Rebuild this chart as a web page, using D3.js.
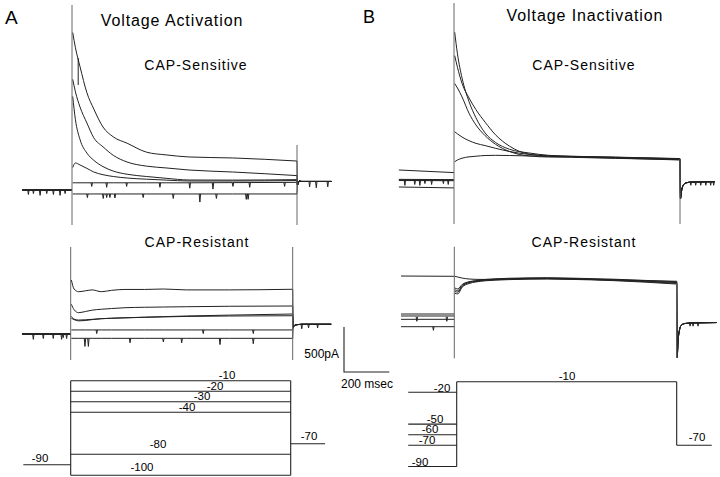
<!DOCTYPE html>
<html>
<head>
<meta charset="utf-8">
<script src="https://cdnjs.cloudflare.com/ajax/libs/d3/7.8.5/d3.min.js"></script>
<style>
  body { margin: 0; background: #fff; }
  text { font-family: "Liberation Sans", Arial, sans-serif; fill: #000; }
  .trace { fill: none; stroke: #222; stroke-width: 1; }
  .cap { fill: none; stroke: #666; stroke-width: 1; }
  .proto { fill: none; stroke: #222; stroke-width: 1.1; }
</style>
</head>
<body>
<script>
(function() {

  // ---------- data ----------
  // sample times (ms after step onset) used by every step trace
  var stepTimes = [3, 15, 35, 65, 95, 135, 180, 240, 325, 410, 510, 700, 980];
  var stepDur = 980;

  // A: activation protocol (mV)
  var actSteps = [-10, -20, -30, -40, -80, -100];
  var actHold = -90;
  var postHold = -70;

  // A, CAP-sensitive current (pA) at stepTimes, one array per step
  var aSens10  = [1750, 1580, 1370, 1080, 900, 700, 590, 520, 420, 390, 367, 356, 322];
  var aSens20  = [1230, 1090, 922, 744, 580, 480, 385, 311, 265, 245, 222, 200, 160];
  var aSens30  = [1040, 780, 560, 410, 330, 260, 210, 175, 150, 130, 111, 110, 115];
  var aSens40  = [250, 300, 278, 240, 200, 170, 150, 133, 120, 110, 100, 100, 105];
  var aSens80  = [80, 80, 80, 80, 80, 80, 80, 80, 80, 80, 80, 82, 85];
  var aSens100 = [-44, -44, -44, -44, -44, -44, -44, -44, -44, -44, -44, -44, -44];
  var aSensPostT = [982, 990, 1000, 1130];
  var aSensPostV = [55, 100, 95, 95];

  // A, CAP-resistant current (pA)
  var aRes10  = [600, 500, 470, 480, 490, 470, 485, 495, 495, 500, 490, 490, 497];
  var aRes20  = [330, 270, 237, 250, 265, 275, 283, 292, 297, 300, 303, 308, 311];
  var aRes30  = [195, 165, 155, 158, 163, 170, 175, 180, 187, 193, 200, 210, 222];
  var aRes40  = [175, 160, 146, 150, 160, 170, 175, 180, 185, 190, 195, 200, 203];
  var aRes80  = [45, 45, 45, 45, 45, 45, 45, 45, 45, 45, 45, 45, 45];
  var aRes100 = [-48, -48, -48, -48, -48, -48, -48, -48, -48, -48, -48, -48, -48];
  var aResPostT = [982, 988, 1000, 1020, 1150];
  var aResPostV = [75, 95, 104, 108, 108];

  // B: inactivation protocol, prepulse potentials (mV), test step -10
  var inactPre = [-20, -50, -60, -70, -90];
  var inactTest = -10;

  // B, CAP-sensitive current (pA): prepulse start/end level, then step samples
  var bSensPre = [[189, 160], [85, 82], [78, 76], [72, 70], [0, -10]];
  var bSens20 = [281, 300, 320, 335, 342, 350, 352, 350, 345, 340, 335, 322, 300];
  var bSens50 = [614, 590, 555, 515, 485, 460, 430, 395, 362, 348, 340, 330, 314];
  var bSens60 = [1150, 1100, 1000, 820, 690, 570, 475, 395, 345, 333, 330, 318, 304];
  var bSens70 = [1460, 1330, 1150, 990, 860, 720, 580, 455, 365, 345, 338, 328, 310];
  var bSens90 = [1720, 1480, 1210, 950, 770, 600, 495, 420, 378, 352, 342, 332, 316];
  var bSensPostT = [982, 987, 993, 1005, 1030, 1131];
  var bSensPostV = [-130, -40, 15, 45, 55, 59];

  // B, CAP-resistant current (pA)
  var bResPre = [[563, 560], [141, 141], [119, 119], [82, 82], [0, 0]];
  var bRes20 = [560, 552, 540, 530, 526, 525, 526, 530, 534, 534, 530, 520, 505];
  var bRes50 = [430, 420, 470, 500, 512, 525, 532, 538, 542, 544, 540, 528, 498];
  var bRes60 = [410, 400, 460, 495, 508, 520, 527, 533, 538, 540, 535, 522, 490];
  var bRes70 = [390, 385, 450, 490, 503, 515, 522, 528, 533, 535, 530, 517, 482];
  var bRes90 = [370, 365, 440, 480, 497, 510, 517, 523, 528, 530, 526, 512, 474];
  var bResPostT = [982, 986, 992, 1000, 1015, 1050, 1156];
  var bResPostV = [-340, -160, -40, 15, 35, 42, 46];

  // capacitive transients at step on/off: [top, bottom] in pA
  var capA = { sens: [[2056, -389], [500, -389]], res: [[967, -289], [967, -289]] };
  var capB = { sens: [[2044, -411], [311, -411]], res: [[889, -351], [483, -348]] };
  var aSensArtifact = { t: 27, top: 1467, bottom: 1167 };

  // small downward noise spikes: level (pA), times (ms), depths (pA)
  var aSensSpikes = [
    { level: -44, t: [67, 136, 151, 165, 187, 310, 441, 557, 629, 759, 767], d: [40, 50, 40, 40, 45, 40, 50, 90, 50, 60, 60] },
    { level: 80,  t: [86, 151, 238, 383, 513, 614, 701, 774, 926], d: [40, 50, 40, 50, 60, 70, 40, 50, 40] },
    { level: 0,   t: [-190, -168, -139, -110, -81, -52, -30], d: [50, 40, 60, 40, 50, 60, 40] },
    { level: 95,  t: [1035, 1064, 1114], d: [60, 70, 60] }
  ];
  var aResSpikes = [
    { level: -48, t: [63, 78, 262, 409, 490, 659, 806], d: [90, 90, 50, 40, 50, 70, 60] },
    { level: 45,  t: [115, 585, 806], d: [40, 40, 40] },
    { level: 0,   t: [-165, -121, -77, -40, -33, -18], d: [60, 50, 50, 60, 40, 50] },
    { level: 108, t: [1020, 1050, 1090], d: [50, 40, 40] }
  ];
  var bSensSpikes = [
    { level: 78, t: [-213, -170, -148, -126, -97, -46, -25], d: [60, 50, 60, 40, 50, 40, 50] },
    { level: 59, t: [1027, 1048, 1070, 1092, 1113, 1126], d: [40, 40, 40, 40, 40, 40] }
  ];
  var bResSpikes = [
    { level: 110, t: [-165, -33], d: [50, 50] },
    { level: 0,   t: [-92], d: [40] },
    { level: 46,  t: [1039, 1052, 1074], d: [40, 40, 40] }
  ];

  // ---------- layout ----------
  var width = 720, height = 477;
  var barPx = 45;          // 500 pA
  var panels = {
    aSens: { x0: 72,    x1: 297,   base: 190,   preT: -217, postT: 1130 },
    aRes:  { x0: 70.7,  x1: 292.7, base: 334,   preT: -215, postT: 1150 },
    bSens: { x0: 454,   x1: 680,   base: 187,   preT: -239, postT: 1131 },
    bRes:  { x0: 454.3, x1: 676.7, base: 326.7, preT: -235, postT: 1156 }
  };

  var svg = d3.select("body").append("svg")
      .attr("width", width)
      .attr("height", height);

  function scalesFor(p) {
    return {
      x: d3.scaleLinear().domain([0, stepDur]).range([p.x0, p.x1]),
      y: d3.scaleLinear().domain([0, 500]).range([p.base, p.base - barPx])
    };
  }

  var smooth = d3.line().curve(d3.curveMonotoneX);

  // draw one current panel
  function drawPanel(p, traces, preLevels, postT, postV, cap, spikes, widths) {
    var s = scalesFor(p);
    var g = svg.append("g");
    var line = smooth.x(function(d) { return s.x(d[0]); }).y(function(d) { return s.y(d[1]); });

    traces.forEach(function(vals, i) {
      var pre = preLevels[i];
      // holding segment
      g.append("path").attr("class", "trace")
        .attr("stroke-width", widths[0])
        .attr("d", line([[p.preT, pre[0]], [0, pre[1]]]));
      // step segment
      var pts = stepTimes.map(function(t, j) { return [t, vals[j]]; });
      g.append("path").attr("class", "trace")
        .attr("stroke-width", widths[1])
        .attr("d", line(pts));
      // return to holding
      var post = [[stepDur, vals[vals.length - 1]]].concat(postT.map(function(t, j) { return [t, postV[j]]; }));
      var endPts = post.filter(function(d) { return d[0] <= p.postT; });
      g.append("path").attr("class", "trace")
        .attr("stroke-width", widths[0])
        .attr("d", line(endPts));
    });

    // capacitive transients
    [[0, cap[0]], [stepDur, cap[1]]].forEach(function(c) {
      g.append("line").attr("class", "cap")
        .attr("x1", s.x(c[0])).attr("x2", s.x(c[0]))
        .attr("y1", s.y(c[1][0])).attr("y2", s.y(c[1][1]));
    });

    // noise spikes
    spikes.forEach(function(sp) {
      sp.t.forEach(function(t, k) {
        var x = s.x(t), y0 = s.y(sp.level), y1 = s.y(sp.level - sp.d[k]);
        g.append("path").attr("class", "trace")
          .attr("stroke-width", 0.7)
          .attr("d", "M" + (x - 0.7) + "," + y0 + "L" + x + "," + y1 + "L" + (x + 0.7) + "," + y0);
      });
    });
    return s;
  }

  var zeroPre = [[0, 0], [0, 0], [0, 0], [0, 0], [0, 0], [0, 0]];

  drawPanel(panels.aSens, [aSens10, aSens20, aSens30, aSens40, aSens80, aSens100],
            zeroPre, aSensPostT, aSensPostV, capA.sens, aSensSpikes, [1.2, 1]);
  var sRes = drawPanel(panels.aRes, [aRes10, aRes20, aRes30, aRes40, aRes80, aRes100],
            zeroPre, aResPostT, aResPostV, capA.res, aResSpikes, [1.2, 1.3]);
  drawPanel(panels.bSens, [bSens20, bSens50, bSens60, bSens70, bSens90],
            bSensPre, bSensPostT, bSensPostV, capB.sens, bSensSpikes, [1.1, 1.2]);
  drawPanel(panels.bRes, [bRes20, bRes50, bRes60, bRes70, bRes90],
            bResPre, bResPostT, bResPostV, capB.res, bResSpikes, [1.1, 1.2]);

  // artifact on the -20 mV CAP-sensitive trace
  (function() {
    var s = scalesFor(panels.aSens);
    svg.append("line").attr("class", "trace").attr("stroke-width", 1.2)
      .attr("x1", s.x(aSensArtifact.t)).attr("x2", s.x(aSensArtifact.t))
      .attr("y1", s.y(aSensArtifact.top)).attr("y2", s.y(aSensArtifact.bottom));
  })();

  // ---------- scale bar ----------
  var barX = 344, barY = 372;
  svg.append("path").attr("class", "proto")
    .attr("d", "M" + barX + "," + (barY - (sRes.y(0) - sRes.y(500))) +
               "V" + barY +
               "H" + (barX + sRes.x(200) - sRes.x(0)));
  svg.append("text").attr("x", 339).attr("y", 358).attr("text-anchor", "end")
    .style("font-size", "12px").text("500pA");
  svg.append("text").attr("x", 367).attr("y", 388).attr("text-anchor", "middle")
    .style("font-size", "12px").text("200 msec");

  // ---------- voltage protocols ----------
  var pA = { x0: 70.7, x1: 290.7, preT: -211, postT: 1133, v0: 380.7, v1: 475.2 };
  var pB = { x0: 456.7, x1: 676.7, preT: -216, postT: 1136, v0: 381.7, v1: 466.5 };
  var actLabelX  = [227, 215, 202, 187, 158, 142];
  var actLabelDy = [-1.5, -1.5, -1.5, -1.5, -6, -4.5];
  var inactLabelX  = [442, 435, 430, 427, 420];
  var inactLabelDy = [-0.5, -1.5, -1.3, -1, -1];

  function label(x, y, txt) {
    svg.append("text").attr("x", x).attr("y", y).attr("text-anchor", "middle")
      .attr("fill", "#000")
      .style("font-size", "11.5px").text(txt);
  }

  (function() {
    var x = d3.scaleLinear().domain([0, stepDur]).range([pA.x0, pA.x1]);
    var v = d3.scaleLinear().domain([-10, -100]).range([pA.v0, pA.v1]);
    var g = svg.append("g").attr("class", "proto");
    actSteps.forEach(function(V, i) {
      g.append("line").attr("x1", x(0)).attr("x2", x(stepDur)).attr("y1", v(V)).attr("y2", v(V));
      label(actLabelX[i], v(V) + actLabelDy[i], V);
    });
    [0, stepDur].forEach(function(t) {
      g.append("line").attr("x1", x(t)).attr("x2", x(t))
        .attr("y1", v(d3.max(actSteps))).attr("y2", v(d3.min(actSteps)));
    });
    g.append("line").attr("x1", x(pA.preT)).attr("x2", x(0)).attr("y1", v(actHold)).attr("y2", v(actHold));
    g.append("line").attr("x1", x(stepDur)).attr("x2", x(pA.postT)).attr("y1", v(postHold)).attr("y2", v(postHold));
    label(40, v(actHold) - 3, actHold);
    label(309, v(postHold) - 3.5, postHold);
  })();

  (function() {
    var x = d3.scaleLinear().domain([0, stepDur]).range([pB.x0, pB.x1]);
    var v = d3.scaleLinear().domain([-10, -90]).range([pB.v0, pB.v1]);
    var g = svg.append("g").attr("class", "proto");
    inactPre.forEach(function(V, i) {
      g.append("line").attr("x1", x(pB.preT)).attr("x2", x(0)).attr("y1", v(V)).attr("y2", v(V));
      label(inactLabelX[i], v(V) + inactLabelDy[i], V);
    });
    g.append("line").attr("x1", x(0)).attr("x2", x(0)).attr("y1", v(inactTest)).attr("y2", v(d3.min(inactPre)));
    g.append("line").attr("x1", x(0)).attr("x2", x(stepDur)).attr("y1", v(inactTest)).attr("y2", v(inactTest));
    g.append("line").attr("x1", x(stepDur)).attr("x2", x(stepDur)).attr("y1", v(inactTest)).attr("y2", v(postHold));
    g.append("line").attr("x1", x(stepDur)).attr("x2", x(pB.postT)).attr("y1", v(postHold)).attr("y2", v(postHold));
    label(567, v(inactTest) - 2, inactTest);
    label(697, v(postHold) - 4, postHold);
  })();

  // ---------- titles ----------
  function title(x, y, size, spacing, txt, anchor) {
    svg.append("text").attr("x", x).attr("y", y)
      .attr("text-anchor", anchor || "middle")
      .style("font-size", size + "px")
      .style("letter-spacing", spacing + "px")
      .text(txt);
  }
  title(5, 24, 19, 0, "A", "start");
  title(363, 22.7, 18, 0, "B", "start");
  title(172, 25.7, 16, 0.9, "Voltage Activation");
  title(585, 20.7, 16, 0.9, "Voltage Inactivation");
  title(196, 70, 14, 1, "CAP-Sensitive");
  title(584, 70, 14, 1, "CAP-Sensitive");
  title(197, 247, 14, 1, "CAP-Resistant");
  title(584, 247, 14, 1, "CAP-Resistant");

})();
</script>
</body>
</html>
